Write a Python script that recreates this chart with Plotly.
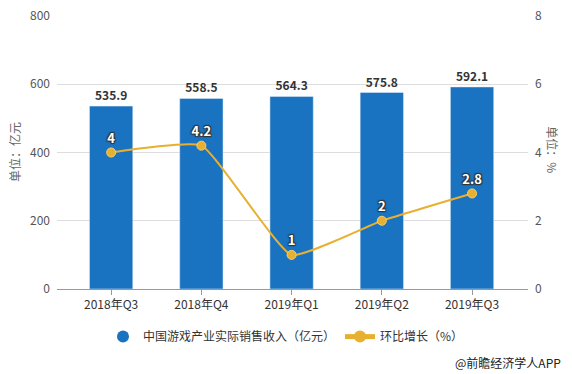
import plotly.graph_objects as go

categories = ["2018年Q3", "2018年Q4", "2019年Q1", "2019年Q2", "2019年Q3"]
revenue = [535.9, 558.5, 564.3, 575.8, 592.1]
growth = [4, 4.2, 1, 2, 2.8]
bar_name = "中国游戏产业实际销售收入（亿元）"
line_name = "环比增长（%）"

BLUE = "#1a73c0"
GOLD = "#e8b030"
FONT = "Noto Sans CJK SC, Microsoft YaHei, sans-serif"

fig = go.Figure()
fig.add_trace(go.Bar(
    x=categories, y=revenue, name=bar_name, marker_color=BLUE, width=0.48,
    text=[f"{v:.1f}" for v in revenue], textposition="outside", cliponaxis=False,
    textfont=dict(size=12, color="#333333", family=FONT, weight="bold"),
    showlegend=False, hoverinfo="skip"))
fig.add_trace(go.Scatter(
    x=categories, y=growth, name=line_name, yaxis="y2", mode="lines+markers+text",
    line=dict(color=GOLD, width=2, shape="spline", smoothing=0.4),
    marker=dict(size=9, color=GOLD, line=dict(color="#f5d070", width=1)),
    text=[str(v) for v in growth], textposition="top center",
    textfont=dict(size=13, color="white", family=FONT, weight="bold",
                  shadow="1px 1px 1px #333, -1px -1px 1px #333, 1px -1px 1px #333, -1px 1px 1px #333"),
    showlegend=False, cliponaxis=False, hoverinfo="skip"))
# legend entries
fig.add_trace(go.Scatter(x=[None], y=[None], mode="markers", name=bar_name,
                         marker=dict(size=13, color=BLUE, symbol="circle")))
fig.add_trace(go.Scatter(x=[None], y=[None], mode="lines+markers", name=line_name,
                         line=dict(color=GOLD, width=2), marker=dict(size=7, color=GOLD)))

fig.update_layout(
    width=572, height=374,
    margin=dict(l=57, r=44, t=16, b=85, autoexpand=False),
    paper_bgcolor="white", plot_bgcolor="white",
    font=dict(family=FONT, size=12, color="#555555"),
    xaxis=dict(type="category", range=[-0.6, 4.62], showline=True, linecolor="#999999",
               ticks="outside", ticklen=5, tickcolor="#999999", tickfont=dict(color="#333333", size=12),
               showgrid=False, fixedrange=True, automargin=False),
    yaxis=dict(range=[0, 800], dtick=200, showgrid=True, gridcolor="#dddddd", zeroline=False,
               showline=False, tickfont=dict(color="#555555", size=12), ticklabelstandoff=6,
               automargin=False),
    yaxis2=dict(range=[0, 8], dtick=2, overlaying="y", side="right", showgrid=False, zeroline=False,
                tickfont=dict(color="#555555", size=12), ticklabelstandoff=6, automargin=False),
    legend=dict(orientation="h", x=0.5, xanchor="center", xref="container",
                y=0.1, yanchor="middle", yref="container", itemwidth=30,
                font=dict(size=12, color="#333333"), itemsizing="constant"),
    showlegend=True,
    annotations=[
        dict(text="单位：亿元", xref="paper", yref="paper", x=-0.09, y=0.5, showarrow=False,
             textangle=-90, font=dict(size=12, color="#666666"), xanchor="center", yanchor="middle"),
        dict(text="单位：%", xref="paper", yref="paper", x=1.052, y=0.51, showarrow=False,
             textangle=90, font=dict(size=12, color="#666666"), xanchor="center", yanchor="middle"),
        dict(text="@前瞻经济学人APP", xref="paper", yref="paper", x=1.075, y=-0.27, showarrow=False,
             font=dict(size=12, color="#222222"), xanchor="right", yanchor="middle"),
    ],
)

fig.write_html("out.html", config={"displayModeBar": False},
               post_script="document.body.style.margin='0';")
